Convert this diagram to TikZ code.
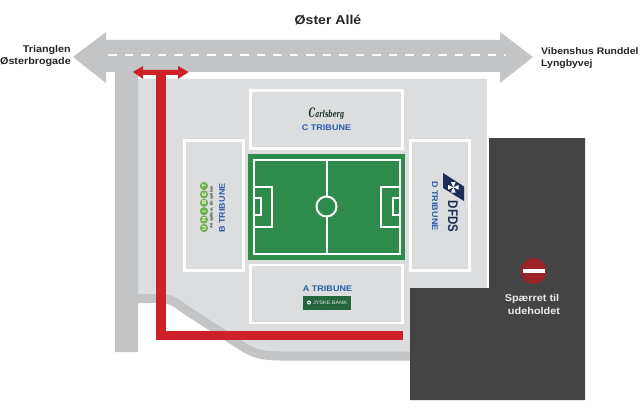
\documentclass[tikz,border=0pt]{standalone}
\usepackage{fontspec}
\setmainfont[FakeStretch=1.1]{Liberation Sans}
\newfontfamily\scriptfam{DejaVu Serif}
\definecolor{road}{HTML}{C3C4C6}
\definecolor{ground}{HTML}{DCDDDF}
\definecolor{darkzone}{HTML}{444444}
\definecolor{redpath}{HTML}{CE2029}
\definecolor{pitch}{HTML}{2E8B4C}
\definecolor{standblue}{HTML}{2A5CAA}
\definecolor{nored}{HTML}{9B2226}
\definecolor{jyske}{HTML}{25663F}
\definecolor{carl}{HTML}{1E3A2A}
\definecolor{unigreen}{HTML}{6DB04A}
\definecolor{dfds}{HTML}{1B2F55}
\tikzset{
  x=1pt,y=-1pt,
  stand/.style={draw=white,line width=2.6pt,fill=ground},
  pline/.style={draw=white,line width=2pt},
  label/.style={font=\fontsize{9.8}{12}\selectfont\bfseries,text=black!85,inner sep=0pt},
  whitelabel/.style={font=\fontsize{9.9}{12}\selectfont\bfseries,text=white!92!black,inner sep=0pt},
  tribune/.style={font=\fontsize{8.2}{10}\selectfont\bfseries,text=standblue,inner sep=0pt},
  uni/.style={circle,fill=unigreen,text=white,inner sep=0pt,minimum size=8.2pt,font=\fontsize{5.4}{5}\selectfont\bfseries},
}
\begin{document}
\begin{tikzpicture}
\useasboundingbox (0,0) rectangle (640,412);
\fill[white] (0,0) rectangle (640,412);
% ground
\fill[ground] (138,79) -- (487,79) -- (487,288) -- (410,288) -- (410,356) -- (270,356) .. controls (250,356) and (245,348) .. (232,340) -- (185,310) .. controls (175,302) and (172,298) .. (160,298) -- (138,298) -- cycle;
% road
\fill[road] (73,57) -- (106,32) -- (106,40) -- (500,40) -- (500,32) -- (533,57) -- (500,83) -- (500,72) -- (138,72) -- (138,352) -- (115,352) -- (115,72) -- (106,72) -- (106,83) -- cycle;
\draw[white,line width=1.1pt,dash pattern=on 8.5pt off 8pt] (108,55) -- (506,55);
\draw[road,line width=9pt] (138,298.5) -- (160,298.5) .. controls (172,298.5) and (176,303) .. (186,310) -- (234,341) .. controls (248,350) and (255,356) .. (280,356) -- (411,356);
% dark zone
\fill[darkzone] (489,138) -- (585,138) -- (585,400) -- (410,400) -- (410,288) -- (489,288) -- cycle;
% stands
\node[stand,minimum width=152pt,minimum height=58pt,inner sep=0pt] (c) at (326.5,119.5) {};
\node[stand,minimum width=152pt,minimum height=58pt,inner sep=0pt] (a) at (326.5,294) {};
\node[stand,minimum width=59pt,minimum height=130pt,inner sep=0pt] (b) at (213.7,205.5) {};
\node[stand,minimum width=59pt,minimum height=130pt,inner sep=0pt] (d) at (440,205.5) {};
% pitch
\fill[pitch] (248,154) rectangle (405,260);
\draw[pline] (254,160) rectangle (399.5,254);
\draw[pline] (326.5,160) -- (326.5,254);
\draw[pline,fill=pitch] (326.5,206.5) circle (10);
\draw[pline] (254,186.5) -- (272,186.5) -- (272,226.5) -- (254,226.5);
\draw[pline] (254,198) -- (261,198) -- (261,215) -- (254,215);
\draw[pline] (399.5,186.5) -- (381,186.5) -- (381,226.5) -- (399.5,226.5);
\draw[pline] (399.5,198) -- (392.5,198) -- (392.5,215) -- (399.5,215);
% red path
\fill[redpath] (156,72) rectangle (165.5,340);
\fill[redpath] (156,331) rectangle (403,340);
\fill[redpath] (133,72) -- (143,66) -- (143,70) -- (178,70) -- (178,66) -- (188.5,72) -- (178,79) -- (178,75) -- (143,75) -- (143,79) -- cycle;
% road labels
\node[font=\fontsize{12.8}{14}\selectfont\bfseries,text=black!85,inner sep=0pt] (oster) at (328,20.5) {Øster Allé};
\node[label,anchor=east] (tri) at (71,49.5) {Trianglen};
\node[label,anchor=east] (ost) at (71,62) {Østerbrogade};
\node[label,anchor=west,font=\fontsize{9.5}{12}\selectfont\bfseries] (vib) at (541,51.5) {Vibenshus Runddel};
\node[label,anchor=west,font=\fontsize{9.5}{12}\selectfont\bfseries] (lyn) at (541,64.5) {Lyngbyvej};
% stand labels
\node[tribune] (ct) at (326.5,127.5) {C TRIBUNE};
\node[tribune] (at) at (327.5,288.5) {A TRIBUNE};
\node[tribune,rotate=90] (bt) at (222,208) {B TRIBUNE};
\node[tribune,rotate=-90] (dt) at (435,206) {D TRIBUNE};
% carlsberg
\node[font=\scriptfam\itshape\fontsize{9.5}{9}\selectfont\bfseries,text=carl,inner sep=0pt] (carlsb) at (326.5,114) {\scalebox{.65}[1]{\fontsize{13}{13}\selectfont C\fontsize{9.5}{9}\selectfont arlsberg}};
% jyske
\node[fill=jyske,text=white!90!black,minimum width=47.5pt,minimum height=14pt,inner sep=0pt,font=\fontsize{5}{5}\selectfont] (jy) at (327,303) {\hspace{6pt}JYSKE BANK};
\fill[white] (309,302.5) circle (2);
\fill[jyske] (309,302.5) circle (0.8);
% unibet
\foreach \n/\t/\yy in {u1/U/228,u2/N/219.6,u3/I/211.2,u4/B/202.8,u5/E/194.4,u6/T/186}{
  \node[uni,rotate=90] (\n) at (204,\yy) {\t};
}
\node[rotate=90,font=\fontsize{3.6}{4}\selectfont\bfseries,text=black!80,inner sep=0pt] (uni) at (211.5,207) {All spillere, Én spillere};
% dfds
\fill[dfds] (443,173) -- (464,186.5) -- (464,201) -- (443,188) -- cycle;
\fill[white] (453.3,187.3) -- (450.9,182) -- (455.7,182) -- cycle;
\fill[white] (453.3,187.3) -- (450.9,192.6) -- (455.7,192.6) -- cycle;
\fill[white] (453.3,187.3) -- (448,184.9) -- (448,189.7) -- cycle;
\fill[white] (453.3,187.3) -- (458.6,184.9) -- (458.6,189.7) -- cycle;
\node[rotate=-90,font=\fontsize{14}{14}\selectfont\bfseries,text=dfds,inner sep=0pt] (dfdst) at (453,216.5) {\scalebox{.75}[1]{DFDS}};
% no entry
\node[circle,fill=nored,minimum size=26pt,inner sep=0pt] (noent) at (533.5,271) {};
\fill[white] (523,269) rectangle (544.5,273);
\node[whitelabel] (sp) at (532,298.5) {Spærret til};
\node[whitelabel] (ud) at (534,311) {udeholdet};
\end{tikzpicture}
\end{document}
